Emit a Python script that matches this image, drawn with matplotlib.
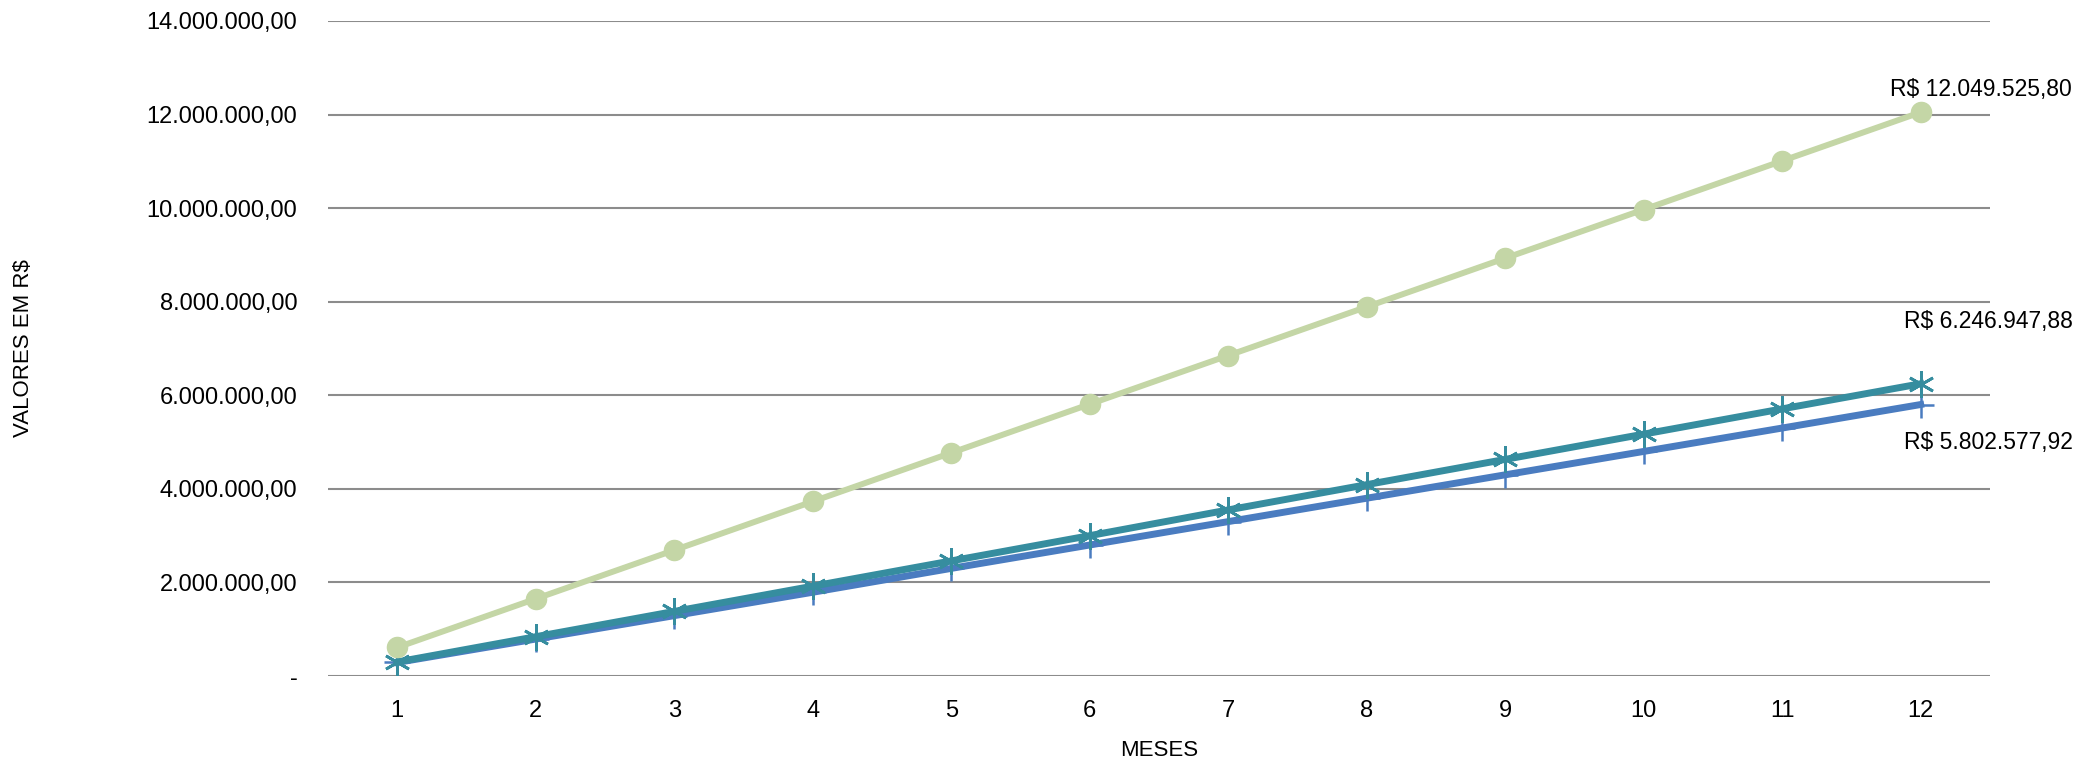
import matplotlib
matplotlib.use('Agg')
import matplotlib.pyplot as plt
from matplotlib.ticker import FuncFormatter

# dados
meses = [1, 2, 3, 4, 5, 6, 7, 8, 9, 10, 11, 12]
serie_verde = [610000, 1650000, 2690000, 3730000, 4770000, 5810000,
               6850000, 7890000, 8930000, 9970000, 11010000, 12049525.80]
serie_teal = [300000, 840000, 1380000, 1920000, 2460000, 3000000,
              3550000, 4090000, 4630000, 5170000, 5710000, 6246947.88]
serie_azul = [290000, 790000, 1290000, 1790000, 2300000, 2800000,
              3300000, 3800000, 4300000, 4800000, 5300000, 5802577.92]

GREEN, TEAL, BLUE, GRID = '#c4d6a6', '#368d9f', '#4a7cc0', '#8c8c8c'
FONT = ['Liberation Sans', 'DejaVu Sans']
plt.rcParams['font.family'] = FONT


def brl(v):
    s = f'{v:,.2f}'
    return s.replace(',', 'X').replace('.', ',').replace('X', '.')


fig = plt.figure(figsize=(20.98, 7.63), dpi=100)
ax = fig.add_axes([0.1563, 0.114, 0.7922, 0.8585])

ax.plot(meses, serie_azul, color=BLUE, lw=5, marker='+', ms=19, mew=1.8, zorder=3)
ax.plot(meses, serie_teal, color=TEAL, lw=5, marker=(6, 2, 0), ms=19, mew=2, zorder=4)
ax.plot(meses, serie_verde, color=GREEN, lw=4.3, marker='o', ms=14.5, mec=GREEN, zorder=5)

# rótulos dos últimos pontos
ax.annotate('R$ ' + brl(serie_verde[-1]), (meses[-1], serie_verde[-1]),
            textcoords='offset points', xytext=(-22, 16.5), ha='left', va='center',
            fontsize=16.5)
ax.annotate('R$ ' + brl(serie_teal[-1]), (meses[-1], serie_teal[-1]),
            textcoords='offset points', xytext=(-12, 44.6), ha='left', va='center',
            fontsize=16.5)
ax.annotate('R$ ' + brl(serie_azul[-1]), (meses[-1], serie_azul[-1]),
            textcoords='offset points', xytext=(-12, -27), ha='left', va='center',
            fontsize=16.5)

ax.set_xlim(0.5, 12.5)
ax.set_ylim(0, 14000000)
ax.set_xticks(meses)
ax.set_yticks(range(0, 14000001, 2000000))
ax.yaxis.set_major_formatter(FuncFormatter(lambda v, p: '-' if v == 0 else brl(v)))
ax.tick_params(length=0, labelsize=17)
ax.tick_params(axis='y', pad=22)
ax.tick_params(axis='x', pad=17)

for s in ax.spines.values():
    s.set_visible(False)
ax.grid(axis='y', color=GRID, lw=1.5)
ax.set_axisbelow(True)

fig.text(1159 / 2098, 1 - 750 / 763, 'MESES', fontsize=16, ha='center', va='center')
fig.text(24 / 2098, 1 - 348 / 763, 'VALORES EM R$', fontsize=16, rotation=90,
         ha='center', va='center')

fig.savefig('out.png', dpi=100, facecolor='white')
